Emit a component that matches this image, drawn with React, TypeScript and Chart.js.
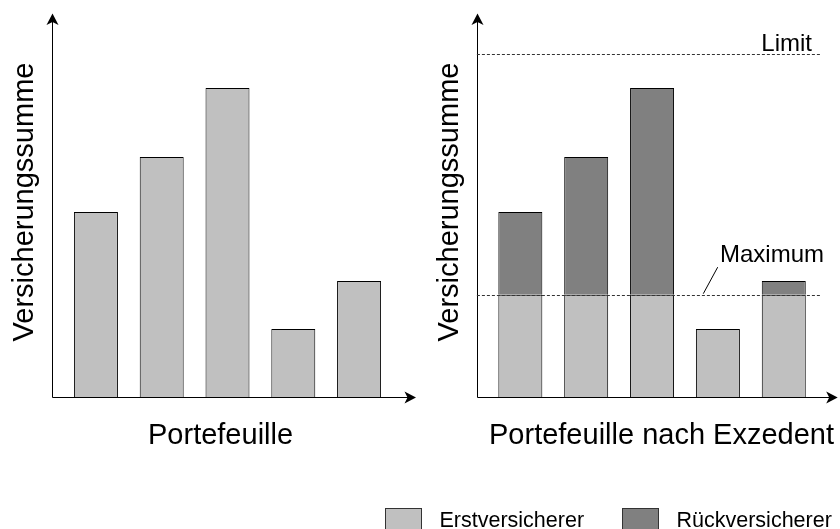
import React, { useEffect, useRef } from "react";
import { Chart, registerables } from "chart.js";

Chart.register(...registerables);

// ---- data ----
const categories = ["Risiko 1", "Risiko 2", "Risiko 3", "Risiko 4", "Risiko 5"];
const portfolioValues = [5.4, 7, 9, 2, 3.4];
const erstValues = [3, 3, 3, 2, 3];
const rueckValues = [2.4, 4, 6, 0, 0.4];
const maximumValue = 3;
const limitValue = 10;
const yMin = 0;
const yMax = 11.15;

const leftXTitle = "Portefeuille";
const rightXTitle = "Portefeuille nach Exzedent";
const yTitle = "Versicherungssumme";
const legendLabels = ["Erstversicherer", "Rückversicherer"];
const limitLabel = "Limit";
const maximumLabel = "Maximum";

// ---- styles ----
const LIGHT = "#c0c0c0";
const DARK = "#808080";
const FONT = "'Liberation Sans', Arial, Helvetica, sans-serif";

function drawArrowUp(ctx: CanvasRenderingContext2D, x: number, tipY: number) {
  ctx.beginPath();
  ctx.moveTo(x, tipY);
  ctx.lineTo(x + 6, tipY + 11.5);
  ctx.lineTo(x, tipY + 8.5);
  ctx.lineTo(x - 6, tipY + 11.5);
  ctx.closePath();
  ctx.fill();
}
function drawArrowRight(ctx: CanvasRenderingContext2D, tipX: number, y: number) {
  ctx.beginPath();
  ctx.moveTo(tipX, y);
  ctx.lineTo(tipX - 11.5, y - 6);
  ctx.lineTo(tipX - 8.5, y);
  ctx.lineTo(tipX - 11.5, y + 6);
  ctx.closePath();
  ctx.fill();
}

type Deco = {
  axisGap: number; // distance of y-axis left of chart area
  arrowOver: number; // x-axis arrow tip beyond chart area right
  arrowTop: number; // y of y-axis arrow tip
  yTitleX: number;
  yTitleY: number;
  xTitle: string;
  xTitleX: number;
  xTitleY: number;
};

function makeDecoPlugin(d: Deco, extra?: (chart: any) => void) {
  return {
    id: "deco",
    afterDraw(chart: any) {
      const ctx: CanvasRenderingContext2D = chart.ctx;
      const a = chart.chartArea;
      const ax = Math.round(a.left - d.axisGap) + 0.5;
      const ay = Math.round(a.bottom) - 0.5;
      ctx.save();
      ctx.strokeStyle = "#000";
      ctx.fillStyle = "#000";
      ctx.lineWidth = 1;
      ctx.beginPath();
      ctx.moveTo(ax, ay);
      ctx.lineTo(ax, d.arrowTop + 6);
      ctx.moveTo(ax, ay);
      ctx.lineTo(a.right + d.arrowOver - 6, ay);
      ctx.stroke();
      drawArrowUp(ctx, ax, d.arrowTop);
      drawArrowRight(ctx, a.right + d.arrowOver, ay);

      ctx.font = `29px ${FONT}`;
      ctx.textBaseline = "alphabetic";
      ctx.textAlign = "left";
      ctx.fillText(d.xTitle, d.xTitleX, d.xTitleY);

      ctx.save();
      ctx.translate(d.yTitleX, d.yTitleY);
      ctx.rotate(-Math.PI / 2);
      ctx.textAlign = "center";
      ctx.fillText(yTitle, 0, 0);
      ctx.restore();
      ctx.restore();
      if (extra) extra(chart);
    },
  };
}

export default function App() {
  const leftRef = useRef<HTMLCanvasElement | null>(null);
  const rightRef = useRef<HTMLCanvasElement | null>(null);

  useEffect(() => {
    const common = (padding: any) => ({
      responsive: false,
      animation: false as const,
      devicePixelRatio: 1,
      layout: { padding },
      plugins: { legend: { display: false }, tooltip: { enabled: false } },
      scales: {
        x: { type: "category" as const, display: false, offset: true, stacked: true },
        y: { display: false, min: yMin, max: yMax, stacked: true },
      },
    });

    const left = new Chart(leftRef.current!, {
      type: "bar",
      data: {
        labels: categories,
        datasets: [
          {
            label: legendLabels[0],
            data: portfolioValues,
            backgroundColor: LIGHT,
            borderColor: "#000",
            borderWidth: 1,
            categoryPercentage: 1,
            barPercentage: 0.668,
          },
        ],
      },
      options: common({ left: 63, right: 448, top: 14, bottom: 131 }),
      plugins: [
        makeDecoPlugin({
          axisGap: 11,
          arrowOver: 24,
          arrowTop: 13.5,
          yTitleX: 33,
          yTitleY: 202,
          xTitle: leftXTitle,
          xTitleX: 148,
          xTitleY: 444,
        }),
      ],
    });

    const rightExtra = (chart: any) => {
      const ctx: CanvasRenderingContext2D = chart.ctx;
      const a = chart.chartArea;
      const ys = chart.scales.y;
      const x0 = a.left - 10.5;
      const x1 = a.right + 5;
      ctx.save();
      ctx.strokeStyle = "#333";
      ctx.lineWidth = 1;
      ctx.setLineDash([3, 2]);
      for (const v of [limitValue, maximumValue]) {
        const y = Math.round(ys.getPixelForValue(v)) + 0.5;
        ctx.beginPath();
        ctx.moveTo(x0, y);
        ctx.lineTo(x1, y);
        ctx.stroke();
      }
      ctx.setLineDash([]);
      // leader line for Maximum
      const ym = ys.getPixelForValue(maximumValue);
      ctx.strokeStyle = "#000";
      ctx.beginPath();
      ctx.moveTo(703.3, ym - 1);
      ctx.lineTo(717.7, ym - 27.5);
      ctx.stroke();

      ctx.fillStyle = "#000";
      ctx.font = `24px ${FONT}`;
      ctx.textBaseline = "alphabetic";
      ctx.textAlign = "right";
      ctx.fillText(limitLabel, 812, ys.getPixelForValue(limitValue) - 3);
      ctx.textAlign = "left";
      ctx.fillText(maximumLabel, 720, ym - 32.5);

      // legend
      ctx.font = `21.5px ${FONT}`;
      let x = 385.5;
      chart.data.datasets.forEach((ds: any) => {
        ctx.fillStyle = ds.backgroundColor;
        ctx.fillRect(x, 508.5, 36, 24);
        ctx.strokeStyle = "#333";
        ctx.strokeRect(x, 508.5, 36, 24);
        ctx.fillStyle = "#000";
        ctx.fillText(ds.label, x + 54, 526.5);
        x += 54 + ctx.measureText(ds.label).width + 38;
        x = Math.round(x) + 0.5;
      });
      ctx.restore();
    };

    const right = new Chart(rightRef.current!, {
      type: "bar",
      data: {
        labels: categories,
        datasets: [
          {
            label: legendLabels[0],
            data: erstValues,
            backgroundColor: LIGHT,
            borderColor: "#000",
            borderWidth: 1,
            categoryPercentage: 1,
            barPercentage: 0.668,
          },
          {
            label: legendLabels[1],
            data: rueckValues,
            backgroundColor: DARK,
            borderColor: "#000",
            borderWidth: 1,
            categoryPercentage: 1,
            barPercentage: 0.668,
          },
        ],
      },
      options: common({ left: 487.4, right: 23.3, top: 14, bottom: 131 }),
      plugins: [
        makeDecoPlugin(
          {
            axisGap: 10.7,
            arrowOver: 21,
            arrowTop: 13.5,
            yTitleX: 458,
            yTitleY: 202,
            xTitle: rightXTitle,
            xTitleX: 489,
            xTitleY: 444,
          },
          rightExtra
        ),
      ],
    });

    return () => {
      left.destroy();
      right.destroy();
    };
  }, []);

  const canvasStyle: React.CSSProperties = {
    position: "absolute",
    left: 0,
    top: 0,
    width: 840,
    height: 529,
  };

  return (
    <div
      style={{
        position: "absolute",
        left: 0,
        top: 0,
        width: 840,
        height: 529,
        background: "#fff",
        overflow: "hidden",
      }}
    >
      <canvas ref={leftRef} width={840} height={529} style={canvasStyle} />
      <canvas ref={rightRef} width={840} height={529} style={canvasStyle} />
    </div>
  );
}
